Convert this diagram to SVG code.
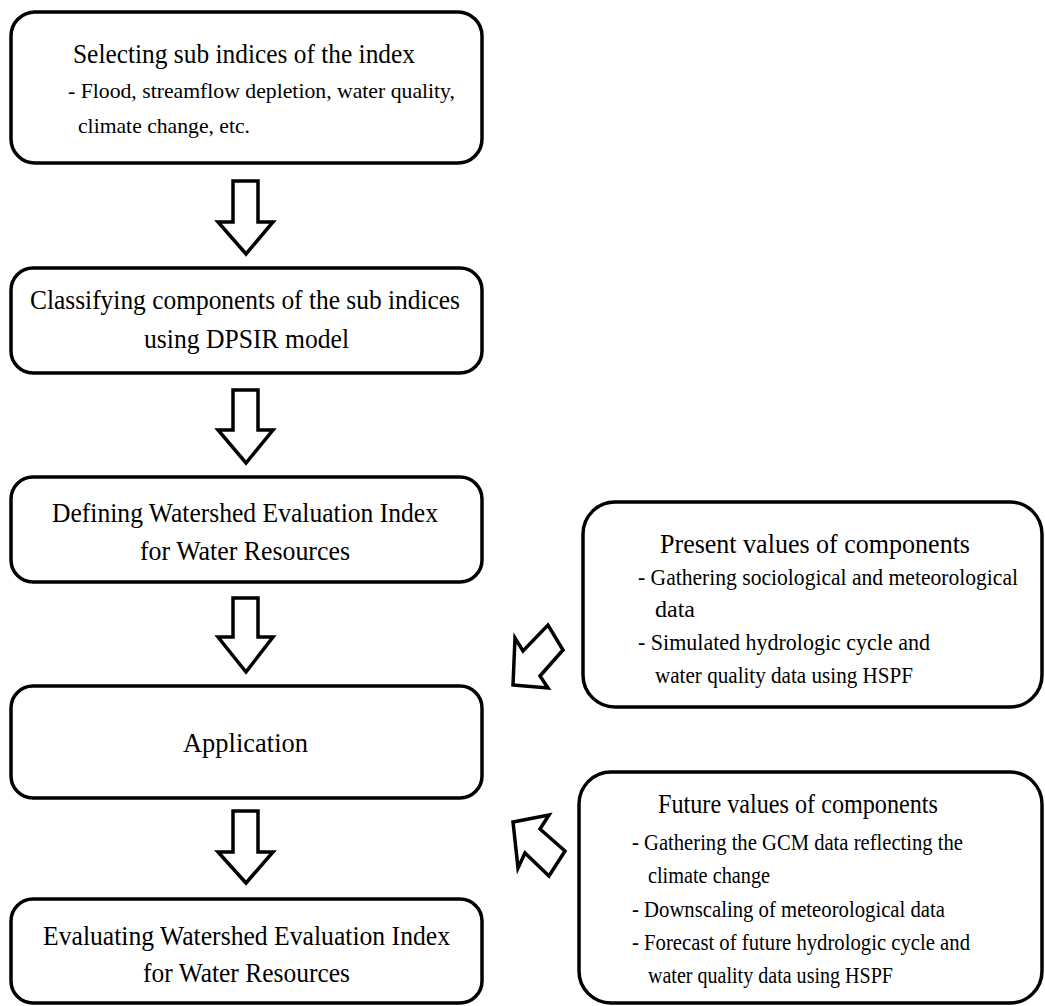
<svg xmlns="http://www.w3.org/2000/svg" width="1045" height="1006" viewBox="0 0 1045 1006">
<style>
.box{fill:#fff;stroke:#000;stroke-width:3.5}
.arr{fill:#fff;stroke:#000;stroke-width:3.5;stroke-linejoin:miter}
text{font-family:"Liberation Serif","Times New Roman",serif;fill:#000}
.t{font-size:28px}
.s{font-size:21px}
.r{font-size:24px}
</style>
<rect width="1045" height="1006" fill="#fff"/>
<g id="connectors">
<polygon class="arr" points="233,181 258,181 258,222 273,222 246,254 218,222 233,222"/>
<polygon class="arr" points="233,390 258,390 258,430 273,430 246,463 218,430 233,430"/>
<polygon class="arr" points="233,598 258,598 258,637 273,637 246,672 218,637 233,637"/>
<polygon class="arr" points="233,811 258,811 258,852 273,852 246,883 218,852 233,852"/>
<polygon class="arr" points="513,685 548,688 540,676 563,650 548,625 523,651 515,638"/>
<polygon class="arr" points="513,822 549,815 540,829 565,851 549,876 525,853 518,868"/>
</g>
<g id="n1">
<rect class="box" x="11" y="12" width="471" height="151" rx="24"/>
<text class="t" x="73" y="63" textLength="342" lengthAdjust="spacingAndGlyphs">Selecting sub indices of the index</text>
<text class="s" x="68" y="98" textLength="387" lengthAdjust="spacingAndGlyphs">- Flood, streamflow depletion, water quality,</text>
<text class="s" x="78" y="133" textLength="172" lengthAdjust="spacingAndGlyphs">climate change, etc.</text>
</g>
<g id="n2">
<rect class="box" x="11" y="268" width="471" height="105" rx="22"/>
<text class="t" x="30" y="309" textLength="430" lengthAdjust="spacingAndGlyphs">Classifying components of the sub indices</text>
<text class="t" x="144" y="348" textLength="205" lengthAdjust="spacingAndGlyphs">using DPSIR model</text>
</g>
<g id="n3">
<rect class="box" x="11" y="477" width="471" height="105" rx="22"/>
<text class="t" x="52" y="522" textLength="386" lengthAdjust="spacingAndGlyphs">Defining Watershed Evaluation Index</text>
<text class="t" x="140" y="560" textLength="210" lengthAdjust="spacingAndGlyphs">for Water Resources</text>
</g>
<g id="n4">
<rect class="box" x="11" y="686" width="471" height="112" rx="22"/>
<text class="t" x="183" y="752" textLength="125" lengthAdjust="spacingAndGlyphs">Application</text>
</g>
<g id="n5">
<rect class="box" x="11" y="899" width="471" height="104" rx="22"/>
<text class="t" x="43" y="945" textLength="407" lengthAdjust="spacingAndGlyphs">Evaluating Watershed Evaluation Index</text>
<text class="t" x="143" y="982" textLength="207" lengthAdjust="spacingAndGlyphs">for Water Resources</text>
</g>
<g id="n6">
<rect class="box" x="583" y="502" width="459" height="205" rx="32"/>
<text class="t" x="660" y="553" textLength="310" lengthAdjust="spacingAndGlyphs">Present values of components</text>
<text class="r" x="638" y="585" textLength="380" lengthAdjust="spacingAndGlyphs">- Gathering sociological and meteorological</text>
<text class="r" x="655" y="617" textLength="40" lengthAdjust="spacingAndGlyphs">data</text>
<text class="r" x="638" y="650" textLength="292" lengthAdjust="spacingAndGlyphs">- Simulated hydrologic cycle and</text>
<text class="r" x="655" y="683" textLength="258" lengthAdjust="spacingAndGlyphs">water quality data using HSPF</text>
</g>
<g id="n7">
<rect class="box" x="579" y="772" width="463" height="231" rx="32"/>
<text class="t" x="658" y="813" textLength="280" lengthAdjust="spacingAndGlyphs">Future values of components</text>
<text class="r" x="632" y="850" textLength="331" lengthAdjust="spacingAndGlyphs">- Gathering the GCM data reflecting the</text>
<text class="r" x="648" y="883" textLength="122" lengthAdjust="spacingAndGlyphs">climate change</text>
<text class="r" x="632" y="917" textLength="313" lengthAdjust="spacingAndGlyphs">- Downscaling of meteorological data</text>
<text class="r" x="632" y="950" textLength="338" lengthAdjust="spacingAndGlyphs">- Forecast of future hydrologic cycle and</text>
<text class="r" x="648" y="983" textLength="245" lengthAdjust="spacingAndGlyphs">water quality data using HSPF</text>
</g>
</svg>
